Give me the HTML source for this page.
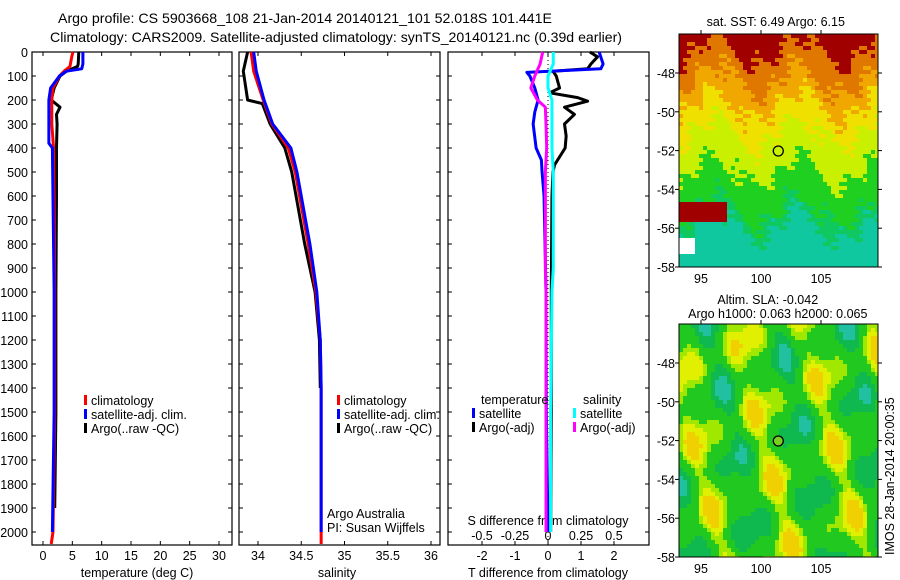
<!DOCTYPE html>
<html><head><meta charset="utf-8">
<style>
html,body{margin:0;padding:0;background:#fff;}
svg{display:block;font-family:"Liberation Sans",sans-serif;}
</style></head>
<body>
<svg id="chart" width="900" height="580" viewBox="0 0 900 580" xmlns="http://www.w3.org/2000/svg">
<rect width="900" height="580" fill="#fff"/>
<text x="58" y="23" font-size="14" textLength="494" lengthAdjust="spacingAndGlyphs">Argo profile: CS 5903668_108 21-Jan-2014 20140121_101 52.018S 101.441E</text>
<text x="50" y="42" font-size="14" textLength="572" lengthAdjust="spacingAndGlyphs">Climatology: CARS2009. Satellite-adjusted climatology: synTS_20140121.nc (0.39d earlier)</text>
<g id="maps"></g>
<g id="plots"></g>
</svg>
<script>
// ---------- data ----------
const depthTicks = [0,100,200,300,400,500,600,700,800,900,1000,1100,1200,1300,1400,1500,1600,1700,1800,1900,2000];
const tempTicks = [0,5,10,15,20,25,30];
const salTicks = [34,34.5,35,35.5,36];
const tdiffTicks = [-2,-1,0,1,2];
const sdiffTicks = [-0.5,-0.25,0,0.25,0.5];

const climDepth = [0,20,60,80,100,150,200,300,400,600,1000,1500,2000,2050];
const climTemp  = [5.1,4.9,4.6,3.6,2.8,1.7,1.5,1.5,1.8,1.9,2.0,2.0,1.7,1.4];
const satDepth  = [0,50,70,80,100,150,200,380,400,600,1000,1500,2000];
const satTemp   = [6.8,6.8,6.6,4.0,2.8,1.3,1.0,1.0,1.6,1.7,1.9,1.9,1.6];
const argoDepth = [0,50,60,80,100,150,200,230,260,300,400,600,1000,1500,1900];
const argoTemp  = [6.1,6.0,5.9,4.0,2.9,1.9,1.4,2.9,2.3,2.4,2.3,2.3,2.2,2.2,2.0];

const climSalDepth = [0,80,200,300,400,500,800,1000,1200,1400,2050];
const climSal  = [33.92,33.95,34.06,34.16,34.35,34.43,34.58,34.67,34.72,34.73,34.73];
const satSalDepth = [0,80,200,300,400,500,800,1000,1200,1400,2000];
const satSal   = [33.95,33.98,34.07,34.17,34.38,34.45,34.6,34.68,34.72,34.73,34.73];
const argoSalDepth = [0,80,200,215,300,400,500,800,1000,1200,1400];
const argoSal  = [33.88,33.83,33.88,34.05,34.14,34.31,34.39,34.54,34.66,34.71,34.72];

const tDiffDepth = [0,20,50,70,80,100,150,170,190,205,230,260,300,350,400,470,500,600,1000,1500,2000];
const argoTDiff = [1.27,1.5,1.3,1.2,0.15,0.25,0.35,0.05,0.9,1.2,0.5,0.8,0.5,0.55,0.52,0.2,0.15,0.12,0.1,0.1,0.08];
const satTDiffDepth = [0,50,70,85,100,150,200,250,300,400,450,500,600,1000,1500,2000];
const satTDiff = [1.55,1.67,1.6,-0.64,-0.55,-0.4,-0.3,-0.4,-0.45,-0.36,-0.2,-0.18,-0.12,-0.06,-0.05,0];
const sDiffDepth = [0,50,100,150,200,230,300,400,500,900,1000,1500,2000];
const satSDiff  = [0.04,0.04,0.0,0.0,0.03,0.03,0.03,0.03,0.04,0.04,0.03,0.02,0.02];
const argoSDiff = [-0.04,-0.06,-0.1,-0.13,-0.08,-0.02,-0.015,-0.01,-0.02,-0.02,-0.015,-0.015,-0.015];

// ---------- helpers ----------
const NS="http://www.w3.org/2000/svg";
const plots=document.getElementById('plots');
function mk(tag,attrs,parent){const e=document.createElementNS(NS,tag);for(const k in attrs)e.setAttribute(k,attrs[k]);(parent||plots).appendChild(e);return e;}
const TOP=52, BOT=545;
const yD = d => TOP + d*0.24;
function lin(v0,p0,v1,p1){return v=>p0+(v-v0)*(p1-p0)/(v1-v0);}
const xT = lin(0,43,30,219);
const xS = lin(34,258,36,431);
const xTD = lin(-2,482,2,614);
const xSD = lin(-0.5,482,0.5,614);

function panel(name,x0,x1){
  const g=mk('g',{});
  
  
  const r=mk('rect',{x:x0,y:TOP,width:x1-x0,height:BOT-TOP,fill:'none',stroke:'#000','stroke-width':1.2},g);
  
  
  depthTicks.forEach(d=>{
    mk('line',{x1:x0,x2:x0+4,y1:yD(d),y2:yD(d),stroke:'#000'},g);
    mk('line',{x1:x1-4,x2:x1,y1:yD(d),y2:yD(d),stroke:'#000'},g);
  });
  return g;
}
function series(g,name,depths,vals,xf,color){
  const pts=[];
  for(let i=0;i<depths.length;i++) pts.push(xf(vals[i])+','+yD(depths[i]));
  const p=mk('polyline',{points:pts.join(' '),fill:'none',stroke:color,'stroke-width':3,'stroke-linejoin':'round'},g);
  
  
}
function txt(g,name,x,y,s,opts){
  const t=mk('text',Object.assign({x:x,y:y,'font-size':12.5},opts||{}),g);
  t.textContent=s;
  
  
  return t;
}
function legend(g,prefix,x,y,items){
  items.forEach((it,i)=>{
    const yy=y+i*14;
    const m=mk('rect',{x:x,y:yy-10,width:3,height:10,fill:it[1]},g);
    
    
    txt(g,prefix+'-label-'+i,x+7,yy,it[0]);
  });
}

// depth labels
const yl=mk('g',{});


depthTicks.forEach(d=>txt(yl,'depth-tick-label',28,yD(d)+5,String(d),{'text-anchor':'end'}));

// panel 1 temperature
const p1=panel('temperature-panel',32,232);
tempTicks.forEach(t=>{
  mk('line',{x1:xT(t),x2:xT(t),y1:TOP,y2:TOP+4,stroke:'#000'},p1);
  mk('line',{x1:xT(t),x2:xT(t),y1:BOT-4,y2:BOT,stroke:'#000'},p1);
  txt(p1,'temp-tick-label',xT(t),560,String(t),{'text-anchor':'middle'});
});
txt(p1,'temperature-axis-title',137,577,'temperature (deg C)',{'text-anchor':'middle'});
series(p1,'temp-argo-line',argoDepth,argoTemp,xT,'#000');
series(p1,'temp-climatology-line',climDepth,climTemp,xT,'#f00');
series(p1,'temp-satellite-line',satDepth,satTemp,xT,'#00f');
legend(p1,'temp-legend',84,405,[['climatology','#f00'],['satellite-adj. clim.','#00f'],['Argo(..raw -QC)','#000']]);

// panel 2 salinity
const p2=panel('salinity-panel',239,440);
salTicks.forEach(t=>{
  mk('line',{x1:xS(t),x2:xS(t),y1:TOP,y2:TOP+4,stroke:'#000'},p2);
  mk('line',{x1:xS(t),x2:xS(t),y1:BOT-4,y2:BOT,stroke:'#000'},p2);
  txt(p2,'sal-tick-label',xS(t),560,String(t),{'text-anchor':'middle'});
});
txt(p2,'salinity-axis-title',337,577,'salinity',{'text-anchor':'middle'});
series(p2,'sal-argo-line',argoSalDepth,argoSal,xS,'#000');
series(p2,'sal-climatology-line',climSalDepth,climSal,xS,'#f00');
series(p2,'sal-satellite-line',satSalDepth,satSal,xS,'#00f');
legend(p2,'sal-legend',337,405,[['climatology','#f00'],['satellite-adj. clim.','#00f'],['Argo(..raw -QC)','#000']]);
txt(p2,'credit-argo-australia',327,518,'Argo Australia');
txt(p2,'credit-pi',327,532,'PI: Susan Wijffels');

// panel 3 differences
const p3=panel('difference-panel',448,649);
tdiffTicks.forEach(t=>{
  mk('line',{x1:xTD(t),x2:xTD(t),y1:TOP,y2:TOP+4,stroke:'#000'},p3);
  mk('line',{x1:xTD(t),x2:xTD(t),y1:BOT-4,y2:BOT,stroke:'#000'},p3);
  txt(p3,'tdiff-tick-label',xTD(t),560,String(t),{'text-anchor':'middle'});
});
sdiffTicks.forEach(t=>txt(p3,'sdiff-tick-label',xSD(t),540,String(t),{'text-anchor':'middle'}));
txt(p3,'sdiff-axis-title',548,525,'S difference from climatology',{'text-anchor':'middle'});
txt(p3,'tdiff-axis-title',548,577,'T difference from climatology',{'text-anchor':'middle'});
const zl=mk('line',{x1:xTD(0),x2:xTD(0),y1:TOP,y2:BOT,stroke:'#000','stroke-dasharray':'1,3'},p3);


series(p3,'tdiff-argo-line',tDiffDepth,argoTDiff,xTD,'#000');
series(p3,'tdiff-satellite-line',satTDiffDepth,satTDiff,xTD,'#00f');
series(p3,'sdiff-satellite-line',sDiffDepth,satSDiff,xSD,'#0ff');
series(p3,'sdiff-argo-line',sDiffDepth,argoSDiff,xSD,'#f0f');
txt(p3,'legend-temperature-header',481,404,'temperature');
txt(p3,'legend-salinity-header',583,404,'salinity');
legend(p3,'tdiff-legend',472,418,[['satellite','#00f'],['Argo(-adj)','#000']]);
legend(p3,'sdiff-legend',573,418,[['satellite','#0ff'],['Argo(-adj)','#f0f']]);

// ---------- maps ----------
const maps=document.getElementById('maps');
const MX0=679, MX1=878;
const xLon=lin(95,701,105,821);
function map(name,y0,y1,colorFn,title1,title2){
  const g=mk('g',{},maps);
  
  
  const yLat=lin(-48,y0+39,-58,y1);
  const cs=4;
  for(let x=MX0;x<MX1;x+=cs){for(let y=y0;y<y1;y+=cs){
    const lon=95+(x-701)/12, lat=-48-(y-(y0+39))/((y1-y0-39)/10);
    mk('rect',{x:x,y:y,width:Math.min(cs,MX1-x),height:Math.min(cs,y1-y),fill:colorFn(lon,lat,x,y)},g);
  }}
  const fr=mk('rect',{x:MX0,y:y0,width:MX1-MX0,height:y1-y0,fill:'none',stroke:'#000'},g);
  
  
  [-48,-50,-52,-54,-56,-58].forEach(l=>{
    mk('line',{x1:MX0-4,x2:MX0,y1:yLat(l),y2:yLat(l),stroke:'#000'},g);
    mk('line',{x1:MX1,x2:MX1+4,y1:yLat(l),y2:yLat(l),stroke:'#000'},g);
    txt(g,'lat-label',MX0-4,yLat(l)+5,String(l),{'text-anchor':'end'});
  });
  [95,100,105].forEach(l=>{
    mk('line',{x1:xLon(l),x2:xLon(l),y1:y0-4,y2:y0,stroke:'#000'},g);
    txt(g,'lon-label',xLon(l),y1+16,String(l),{'text-anchor':'middle'});
  });
  if(title2){txt(g,name+'-title-1',xLon(101.4)-10,y0-20,title1,{'text-anchor':'middle'});txt(g,name+'-title-2',xLon(101.4),y0-6,title2,{'text-anchor':'middle'});}
  else txt(g,name+'-title',xLon(101.4)-2,y0-8,title1,{'text-anchor':'middle'});
  const c=mk('circle',{cx:xLon(101.44),cy:yLat(-52.02),r:5,fill:title2?'#7ad020':'none',stroke:'#000','stroke-width':1.3},g);
  
  
}
function sstColor(lon,lat,x,y){
  let v=lat+0.8*Math.sin(lon*0.9)+0.5*Math.sin(lon*2.3+lat*1.7)+0.35*Math.sin(x*1.3+y*0.7);
  if(lon<97&&lat<-54.5&&lat>-55.5) return '#a00000';
  if(lon<94.5&&lat<-56.3&&lat>-57.3) return '#fff';
  if(v>-46.8) return '#a00000';
  if(v>-48.3) return '#e07800';
  if(v>-49.6) return '#f0a800';
  if(v>-51) return '#f0e000';
  if(v>-53) return '#c8f000';
  if(v>-55) return '#20d020';
  if(v>-55.8) return '#10c860';
  return '#10c8a0';
}
function slaColor(lon,lat){
  let v=Math.sin(lon*1.1+lat*0.4)*0.6+Math.sin(lat*1.6-lon*0.5)*0.5+Math.sin(lon*2.1+lat*1.1)*0.3;
  if(v>0.9) return '#f0d000';
  if(v>0.55) return '#e0f000';
  if(v>0.25) return '#a0e800';
  if(v>-0.5) return '#20c820';
  if(v>-1.0) return '#10b850';
  return '#20c0a0';
}
map('sst-map',34,267,sstColor,'sat. SST: 6.49 Argo: 6.15',null);
map('sla-map',324,557,slaColor,'Altim. SLA: -0.042','Argo h1000: 0.063 h2000: 0.065');
const st=txt(maps,'timestamp',0,0,'IMOS 28-Jan-2014 20:00:35',{transform:'translate(894,555) rotate(-90)'});
</script>
</body></html>
